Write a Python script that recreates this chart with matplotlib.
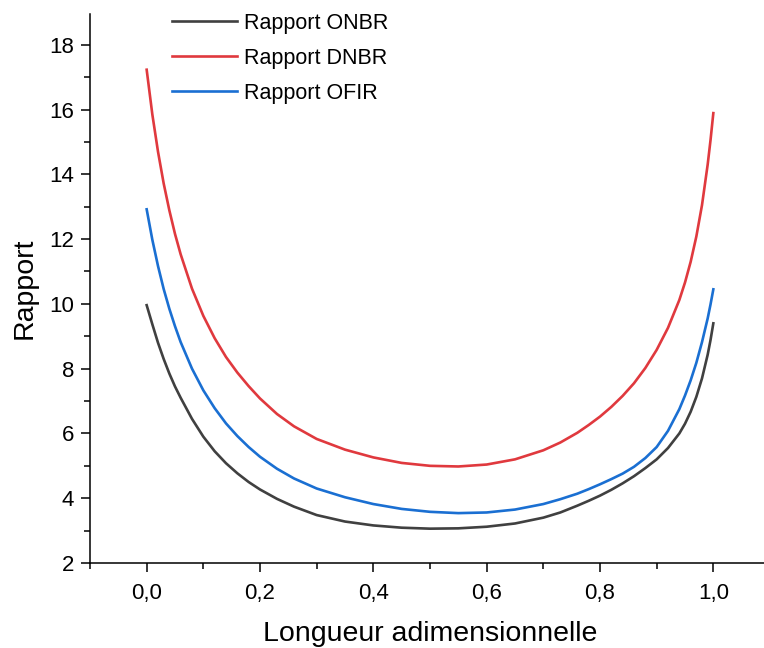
import numpy as np
import matplotlib
matplotlib.use('Agg')
import matplotlib.pyplot as plt
from matplotlib.ticker import MultipleLocator

plt.rcParams['font.family'] = ['Liberation Sans', 'DejaVu Sans']

# values
x_pos = [0.00, 0.01, 0.02, 0.03, 0.04, 0.05, 0.06, 0.08, 0.10, 0.12, 0.14, 0.16, 0.18,
         0.20, 0.23, 0.26, 0.30, 0.35, 0.40, 0.45, 0.50, 0.55, 0.60, 0.65, 0.70, 0.73,
         0.76, 0.78, 0.80, 0.82, 0.84, 0.86, 0.88, 0.90, 0.92, 0.94, 0.95, 0.96, 0.97,
         0.98, 0.99, 0.995, 1.00]

y_onbr = [9.96, 9.37, 8.80, 8.30, 7.85, 7.45, 7.10, 6.45, 5.90, 5.45, 5.08, 4.77, 4.50,
          4.27, 3.98, 3.74, 3.48, 3.28, 3.16, 3.09, 3.06, 3.07, 3.12, 3.22, 3.40, 3.56,
          3.77, 3.92, 4.08, 4.26, 4.46, 4.68, 4.93, 5.20, 5.55, 6.00, 6.30, 6.67, 7.13,
          7.70, 8.43, 8.88, 9.40]

y_dnbr = [17.23, 15.85, 14.70, 13.72, 12.89, 12.16, 11.53, 10.47, 9.63, 8.94, 8.36, 7.88, 7.46,
          7.08, 6.60, 6.22, 5.83, 5.50, 5.26, 5.09, 5.00, 4.98, 5.04, 5.20, 5.48, 5.72,
          6.02, 6.26, 6.52, 6.82, 7.16, 7.55, 8.02, 8.58, 9.26, 10.12, 10.66, 11.30, 12.08,
          13.05, 14.30, 15.05, 15.89]

y_ofir = [12.92, 11.98, 11.17, 10.46, 9.85, 9.31, 8.82, 8.00, 7.33, 6.78, 6.31, 5.92, 5.58,
          5.28, 4.91, 4.61, 4.30, 4.03, 3.82, 3.67, 3.58, 3.54, 3.56, 3.65, 3.82, 3.97,
          4.14, 4.28, 4.43, 4.59, 4.76, 4.97, 5.24, 5.58, 6.08, 6.75, 7.17, 7.64, 8.18,
          8.82, 9.55, 9.98, 10.45]

x_ticks = [0.0, 0.2, 0.4, 0.6, 0.8, 1.0]
x_ticklabels = ['0,0', '0,2', '0,4', '0,6', '0,8', '1,0']
y_ticks = [2, 4, 6, 8, 10, 12, 14, 16, 18]

fig = plt.figure(figsize=(7.64, 6.48), dpi=100)
ax = fig.add_axes([90 / 764, 1 - 563 / 648, 680 / 764, 549 / 648])

ax.plot(x_pos, y_onbr, color='#404040', lw=1.9, label='Rapport ONBR')
ax.plot(x_pos, y_dnbr, color='#e0393e', lw=1.9, label='Rapport DNBR')
ax.plot(x_pos, y_ofir, color='#1a6fd2', lw=1.9, label='Rapport OFIR')

ax.set_xlim(-0.1, 1.1)
ax.set_ylim(2, 18.95)
ax.set_xticks(x_ticks)
ax.set_xticklabels(x_ticklabels)
ax.set_yticks(y_ticks)
ax.xaxis.set_minor_locator(MultipleLocator(0.1))
ax.yaxis.set_minor_locator(MultipleLocator(1))

for s in ['top', 'right']:
    ax.spines[s].set_visible(False)
for s in ['left', 'bottom']:
    ax.spines[s].set_linewidth(1.1)

ax.tick_params(which='major', direction='out', length=6.5, width=1.1, labelsize=16)
ax.tick_params(which='minor', direction='out', length=4, width=1.1)
ax.tick_params(axis='x', which='major', pad=8)
ax.tick_params(axis='y', which='major', pad=5)

ax.set_xlabel('Longueur adimensionnelle', fontsize=20.5, labelpad=12)
ax.set_ylabel('Rapport', fontsize=20.5, labelpad=8)

ax.legend(loc='upper left', bbox_to_anchor=(172 / 764, 1 - 13 / 648),
          bbox_transform=fig.transFigure, frameon=False, fontsize=15.5,
          handlelength=3.0, handletextpad=0.35, labelspacing=0.65,
          borderpad=0, borderaxespad=0)

fig.savefig('out.png', dpi=100)
